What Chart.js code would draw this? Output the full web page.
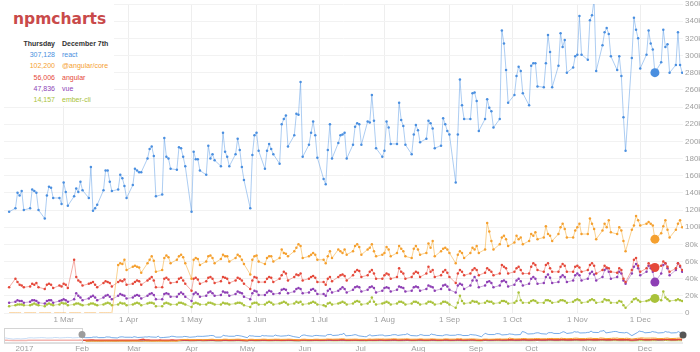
<!DOCTYPE html>
<html>
<head>
<meta charset="utf-8">
<title>npmcharts</title>
<script src="https://cdn.jsdelivr.net/npm/chart.js@4.4.0/dist/chart.umd.min.js"></script>
<style>
  html, body { margin: 0; padding: 0; background: #fff; overflow: hidden; }
  body { width: 700px; height: 352px; position: relative; font-family: 'Liberation Sans', Arial, sans-serif; }
  #main { position: absolute; left: 0; top: 0; }
  #nav { position: absolute; left: 0; top: 326px; }
  .legend-bg { position: absolute; left: 0; top: 0; width: 114px; height: 106px; background: #fff; }
  .title { position: absolute; left: 13px; top: 12px; font: 700 15.5px/15.5px 'DejaVu Sans', sans-serif; color: #c94a4a; }
  .legend { position: absolute; left: 0; top: 38px; font-size: 7px; line-height: 11.2px; }
  .legend .row { position: relative; height: 11.2px; white-space: nowrap; }
  .legend .row span { position: absolute; }
  .legend .num { left: 0; width: 55px; text-align: right; }
  .legend .name { left: 62px; }
  .legend .head { font-weight: bold; color: #333; }
</style>
</head>
<body>
<canvas id="main" width="700" height="326"></canvas>
<canvas id="nav" width="700" height="26"></canvas>
<div class="legend-bg"></div>
<div class="title">npmcharts</div>
<div class="legend" id="legend"></div>

<script>
// Package names and the values shown in the hover legend
const packages = ['react', '@angular/core', 'angular', 'vue', 'ember-cli'];
const legendDay = 'Thursday';
const legendDate = 'December 7th';
const legendValues = ['307,128', '102,200', '56,006', '47,836', '14,157'];

// Daily downloads in thousands, weekdays only, Fri Feb 3 to Thu Dec 21 2017
const react = [118,
  122,140,137,142,120, 122,144,142,140,120, 110,137,147,146,134, 134,127,152,141,125,
  136,145,141,153,143, 134,170,119,122,126, 143,166,166,153,142, 144,161,157,148,134,
  149,168,166,164,164, 180,191,194,183,136, 138,204,182,180,168, 167,193,192,182,171,
  118,188,179,179,166, 161,195,180,185,178, 171,210,188,182,171, 185,203,190,170,155,
  122,184,207,210,189, 168,189,197,191,185, 174,220,226,230,194, 207,232,231,269,182,
  196,210,223,207,181, 156,150,190,220,180, 198,207,208,210,180, 196,217,221,220,196,
  223,222,254,224,192, 182,189,223,216,197, 197,245,225,218,196, 185,208,219,213,199,
  203,224,221,215,192, 195,227,220,212,208, 152,208,272,242,226, 226,256,257,247,212,
  226,249,239,235,216, 226,329,314,283,245, 254,276,287,282,256, 242,288,291,291,264,
  263,291,324,304,263, 288,326,310,318,280, 286,299,301,346,301, 295,341,347,365,282,
  312,327,332,325,299, 283,299,276,228,189, 297,344,330,320,285, 301,329,314,307,280,
  292,330,310,313,280, 289,327,289,280];

const angularCore = [0,
  0,0,0,0,0, 0,0,0,0,0, 0,0,0,0,0, 0,0,0,0,0,
  0,0,0,0,0, 0,0,0,0,0, 0,0,0,0,0, 56,58,57,62,50,
  54,55,54,53,47, 58,62,66,61,48, 50,64,67,65,58, 62,66,68,65,58,
  40,62,64,63,56, 60,66,67,64,58, 63,68,66,66,60, 64,68,66,62,57,
  45,62,66,67,60, 57,64,66,66,60, 64,74,70,69,66, 72,76,80,78,64,
  66,68,70,68,62, 62,58,66,72,64, 74,72,70,74,68, 72,78,80,77,68,
  74,76,80,72,66, 68,70,77,74,66, 70,78,75,72,66, 64,75,78,74,68,
  70,81,76,84,66, 72,75,76,74,70, 58,68,72,70,64, 70,76,74,78,70,
  74,105,95,84,74, 80,88,90,86,78, 82,90,86,88,80, 84,92,90,94,86,
  88,101,92,90,84, 92,100,104,98,88, 88,96,100,104,92, 92,110,104,98,86,
  96,104,100,108,94, 92,100,96,84,72, 97,102,113,108,102, 104,106,104,102,86,
  93,101,108,97,88, 97,104,108,100];

const angular = [30,
  40,36,33,32,30, 31,34,33,35,30, 28,33,34,33,29, 32,31,34,33,29,
  62,42,38,36,32, 34,35,36,33,30, 35,37,36,35,31, 36,38,37,39,33,
  34,36,38,37,33, 38,40,42,38,30, 30,40,41,39,35, 36,40,41,38,34,
  26,40,41,39,34, 37,41,42,40,35, 37,42,41,40,35, 38,41,40,38,34,
  28,38,42,41,36, 36,40,42,41,36, 40,44,48,46,38, 42,45,44,46,38,
  40,42,43,41,36, 36,33,40,42,37, 42,44,45,43,38, 44,48,50,49,42,
  44,48,50,46,40, 40,44,46,45,40, 42,52,48,46,40, 42,46,48,47,42,
  46,54,48,50,42, 44,48,50,47,42, 35,46,50,48,44, 46,50,52,50,44,
  47,52,50,48,44, 46,56,54,52,46, 48,52,54,50,46, 46,54,58,56,50,
  48,56,58,52,48, 48,54,57,55,48, 48,54,55,53,48, 50,56,58,55,46,
  50,55,53,52,48, 47,52,50,40,36, 50,62,64,55,48, 52,58,55,56,53,
  55,60,58,54,48, 52,58,55,50];

const vue = [12,
  13,15,14,14,12, 13,15,15,14,12, 11,14,15,15,12, 14,15,16,15,13,
  16,23,20,18,15, 17,19,20,18,15, 18,20,21,19,16, 20,22,21,20,17,
  18,20,21,20,17, 20,22,23,21,16, 16,22,23,22,19, 19,22,24,22,19,
  14,22,24,22,19, 20,24,25,23,20, 21,25,24,24,20, 22,25,24,23,19,
  16,23,26,25,21, 21,24,26,25,22, 23,27,28,27,23, 25,28,29,28,23,
  24,27,28,26,22, 22,20,26,28,24, 26,28,30,28,24, 27,30,31,30,25,
  27,30,31,29,24, 26,29,30,29,25, 27,31,30,29,25, 26,30,31,30,26,
  28,32,31,30,26, 28,32,33,31,27, 24,32,34,33,28, 32,38,42,38,30,
  32,36,37,35,30, 32,37,38,36,31, 33,38,40,37,32, 34,40,42,40,34,
  35,42,45,41,35, 36,42,44,42,36, 38,44,46,44,38, 40,46,48,45,38,
  42,50,52,48,40, 42,48,46,38,34, 46,54,57,52,44, 48,55,52,48,36,
  46,56,58,52,44, 50,58,54,48];

const emberCli = [8,
  9,10,10,10,9, 9,10,11,10,9, 8,10,11,10,9, 10,12,11,11,9,
  10,11,11,10,9, 10,11,11,10,9, 10,11,12,11,9, 10,12,11,11,9,
  10,11,12,11,9, 11,12,12,11,8, 8,11,12,11,10, 10,12,12,11,10,
  7,11,12,11,10, 10,12,12,11,10, 10,12,11,11,10, 11,12,12,11,9,
  7,11,12,12,10, 10,12,13,12,10, 11,12,13,12,10, 11,13,12,13,10,
  11,12,13,12,10, 9,8,11,12,10, 11,12,13,12,10, 11,13,14,13,10,
  11,13,18,13,10, 11,12,13,12,10, 11,13,13,12,10, 11,13,13,12,10,
  11,13,13,12,10, 11,13,13,12,10, 6,12,20,14,11, 12,14,13,13,11,
  12,14,13,13,11, 12,14,14,13,11, 12,14,24,15,12, 12,14,15,14,12,
  12,15,15,14,12, 13,15,15,14,12, 13,15,16,15,12, 13,15,16,15,12,
  13,16,15,15,12, 12,14,13,9,6, 13,16,17,15,13, 14,15,16,14,17,
  15,25,18,16,14, 15,16,15,14];

// Navigator only: weekdays Dec 21 2016 to Feb 2 2017
const preReact = [115,110,95, 70,80,85,84,75, 90,110,115,114,108, 118,122,120,118,108,
  112,125,124,122,110, 122,128,126,124,112, 124,130,128,126];
const preAngular = [32,31,27, 20,22,24,23,21, 25,30,31,31,29, 32,33,32,31,29,
  31,34,33,33,30, 33,35,34,33,30, 34,36,35,34];

// Axis ticks (day of year 2017) and their labels
const monthTicks = [60, 91, 121, 152, 182, 213, 244, 274, 305, 335];
const monthLabels = ['1 Mar', '1 Apr', '1 May', '1 Jun', '1 Jul', '1 Aug', '1 Sep', '1 Oct', '1 Nov', '1 Dec'];
const navTicks = [1, 32, 60, 91, 121, 152, 182, 213, 244, 274, 305, 335];
const navLabels = ['2017', 'Feb', 'Mar', 'Apr', 'May', 'Jun', 'Jul', 'Aug', 'Sep', 'Oct', 'Nov', 'Dec'];
const yTicks = [0, 20, 40, 60, 80, 100, 120, 140, 160, 180, 200, 220, 240, 260, 280, 300, 320, 340, 360];

const hoverDay = 342;      // Dec 8, the highlighted points
const selectionStart = 32; // navigator window starts Feb 1

const colors = [
  { line: 'rgba(74,144,226,0.45)', dot: '#4a8fe0' },
  { line: 'rgba(245,166,35,0.5)', dot: '#f5a02f' },
  { line: 'rgba(231,76,60,0.45)', dot: '#e5483a' },
  { line: 'rgba(142,68,173,0.45)', dot: '#8e3fb5' },
  { line: 'rgba(168,194,50,0.5)', dot: '#a9c23a' }
];

// Day-of-year numbers for every weekday between two dates
function weekdays(from, to) {
  const base = Date.UTC(2017, 0, 1);
  const out = [];
  for (let t = Date.parse(from); t <= Date.parse(to); t += 864e5) {
    const wd = new Date(t).getUTCDay();
    if (wd !== 0 && wd !== 6) out.push(Math.round((t - base) / 864e5) + 1);
  }
  return out;
}

const mainDays = weekdays('2017-02-03', '2017-12-21');
const preDays = weekdays('2016-12-21', '2017-02-02');
const allSeries = [react, angularCore, angular, vue, emberCli];

// Hover legend
const legendEl = document.getElementById('legend');
let html = '<div class="row head"><span class="num">' + legendDay + '</span><span class="name">' + legendDate + '</span></div>';
packages.forEach((p, i) => {
  html += '<div class="row" style="color:' + colors[i].dot + '"><span class="num">' + legendValues[i] +
    '</span><span class="name">' + p + '</span></div>';
});
legendEl.innerHTML = html;

const tickFont = { family: "'Liberation Sans', Arial, sans-serif", size: 8 };

function toPoints(days, values) {
  return values.map((v, i) => ({ x: days[i], y: v }));
}

// Main chart
new Chart(document.getElementById('main').getContext('2d'), {
  type: 'line',
  data: {
    datasets: allSeries.map((values, i) => ({
      label: packages[i],
      data: toPoints(mainDays, values),
      borderColor: colors[i].line,
      borderWidth: 1,
      pointBackgroundColor: colors[i].dot,
      pointBorderWidth: 0,
      pointRadius: ctx => {
        if (!ctx.raw) return 0;
        if (ctx.raw.y === 0) return 0;
        return ctx.raw.x === hoverDay ? 4.5 : 1.25;
      },
      tension: 0,
      segment: {
        borderDash: ctx => (ctx.p0.parsed.y === 0 && ctx.p1.parsed.y === 0) ? [12, 3] : undefined,
        borderColor: ctx => (ctx.p0.parsed.y === 0 && ctx.p1.parsed.y === 0) ? 'rgba(245,160,47,0.8)' : undefined
      }
    }))
  },
  options: {
    responsive: false,
    animation: false,
    devicePixelRatio: 1,
    events: [],
    layout: { padding: 0 },
    plugins: { legend: { display: false }, tooltip: { enabled: false } },
    scales: {
      x: {
        type: 'linear',
        min: 31.55,
        max: 355.4,
        afterBuildTicks: s => { s.ticks = monthTicks.map(v => ({ value: v })); },
        afterFit: s => { s.height = 13; s.paddingLeft = 0; s.paddingRight = 0; },
        ticks: { callback: (v, i) => monthLabels[i], font: tickFont, color: '#a0a0a0', padding: 2, maxRotation: 0, autoSkip: false },
        grid: { color: '#eeeeee', drawTicks: false },
        border: { display: false }
      },
      y: {
        position: 'right',
        min: 0,
        max: 360,
        afterBuildTicks: s => { s.ticks = yTicks.map(v => ({ value: v })); },
        afterFit: s => { s.width = 17; s.paddingTop = 0; s.paddingBottom = 0; },
        ticks: { callback: v => v === 0 ? '0' : v + 'k', font: tickFont, color: '#a0a0a0', padding: 2 },
        grid: { color: '#f2f2f2', drawTicks: false },
        border: { display: false }
      }
    }
  }
});

// Navigator frame, shaded area and handles
const navigatorFrame = {
  id: 'navigatorFrame',
  afterDatasetsDraw(chart) {
    const { ctx, chartArea: a, scales: { x } } = chart;
    const selX = x.getPixelForValue(selectionStart);
    ctx.save();
    ctx.fillStyle = 'rgba(255,255,255,0.6)';
    ctx.fillRect(a.left, a.top, selX - a.left, a.bottom - a.top);
    ctx.strokeStyle = '#d4d4d4';
    ctx.lineWidth = 1;
    ctx.strokeRect(a.left + 0.5, a.top + 0.5, selX - a.left, a.bottom - a.top - 1);
    ctx.beginPath();
    ctx.moveTo(a.left, a.bottom - 0.5);
    ctx.lineTo(a.right, a.bottom - 0.5);
    ctx.stroke();
    ctx.fillStyle = '#9c9c9c';
    ctx.beginPath();
    ctx.arc(selX, a.top + 6.5, 3.5, 0, Math.PI * 2);
    ctx.fill();
    ctx.fillStyle = '#555';
    ctx.beginPath();
    ctx.arc(a.right, a.top + 7, 3.5, 0, Math.PI * 2);
    ctx.fill();
    ctx.restore();
  }
};

const navData = [
  toPoints(preDays.concat(mainDays), preReact.concat(react)),
  toPoints(mainDays, angularCore),
  toPoints(preDays.concat(mainDays), preAngular.concat(angular)),
  toPoints(mainDays, vue),
  toPoints(mainDays, emberCli)
];

new Chart(document.getElementById('nav').getContext('2d'), {
  type: 'line',
  data: {
    datasets: navData.map((d, i) => ({
      data: d,
      borderColor: i === 0 ? 'rgba(74,144,226,0.75)' : colors[i].dot,
      borderWidth: i === 2 ? 1.5 : 1,
      pointRadius: 0,
      tension: 0
    }))
  },
  options: {
    responsive: false,
    animation: false,
    devicePixelRatio: 1,
    events: [],
    layout: { padding: { left: 4, right: 17, top: 2, bottom: 0 } },
    plugins: { legend: { display: false }, tooltip: { enabled: false } },
    scales: {
      x: {
        type: 'linear',
        min: -10,
        max: 355.5,
        afterBuildTicks: s => { s.ticks = navTicks.map(v => ({ value: v })); },
        afterFit: s => { s.height = 8.5; s.paddingLeft = 0; s.paddingRight = 0; },
        ticks: { callback: (v, i) => navLabels[i], font: tickFont, color: '#a0a0a0', padding: 0, maxRotation: 0, autoSkip: false },
        grid: { display: false, drawTicks: false },
        border: { display: false }
      },
      y: { display: false, min: -80, max: 450 }
    }
  },
  plugins: [navigatorFrame]
});
</script>
</body>
</html>
